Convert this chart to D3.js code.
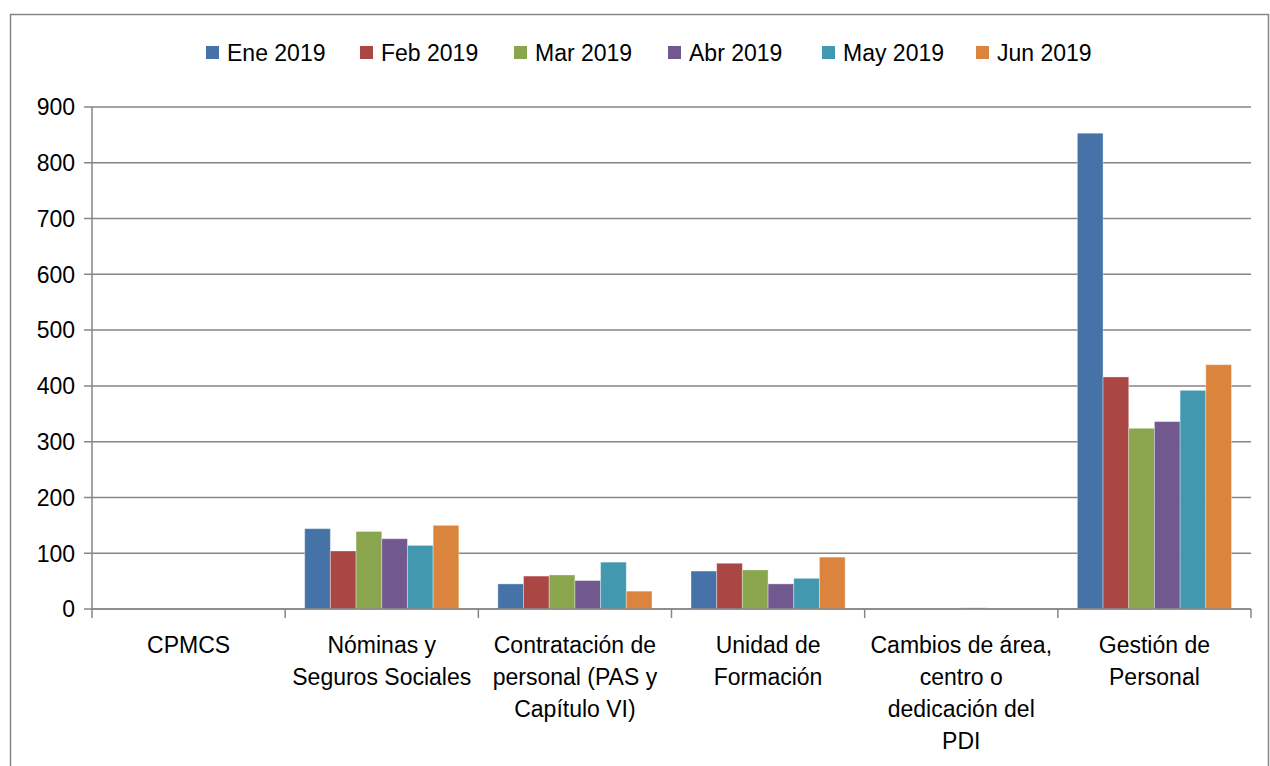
<!DOCTYPE html>
<html>
<head>
<meta charset="utf-8">
<title>Chart</title>
<script src="https://d3js.org/d3.v7.min.js"></script>
<style>
  body { margin: 0; background: #fff; }
  text { font-family: "Liberation Sans", Arial, sans-serif; fill: #000; }
</style>
</head>
<body>
<svg id="chart" width="1270" height="766"></svg>
<script>
// categories (x axis), each label split in lines
var categories = [
  ["CPMCS"],
  ["Nóminas y", "Seguros Sociales"],
  ["Contratación de", "personal (PAS y", "Capítulo VI)"],
  ["Unidad de", "Formación"],
  ["Cambios de área,", "centro o", "dedicación del", "PDI"],
  ["Gestión de", "Personal"]
];
var seriesNames = ["Ene 2019", "Feb 2019", "Mar 2019", "Abr 2019", "May 2019", "Jun 2019"];
var ene = [0, 144, 45, 68, 0, 853];
var feb = [0, 104, 59, 82, 0, 416];
var mar = [0, 139, 61, 70, 0, 324];
var abr = [0, 126, 51, 45, 2, 336];
var may = [0, 114, 84, 55, 0, 392];
var jun = [0, 150, 32, 93, 0, 438];
var yTicks = [0, 100, 200, 300, 400, 500, 600, 700, 800, 900];
var colors = ["#4572A7", "#AA4643", "#89A54E", "#71588F", "#4198AF", "#DB843D"];

var seriesValues = [ene, feb, mar, abr, may, jun];

var svg = d3.select("#chart");

// outer frame
svg.append("rect")
  .attr("x", 10.5).attr("y", 14.5)
  .attr("width", 1258).attr("height", 800)
  .attr("fill", "none").attr("stroke", "#868686").attr("stroke-width", 1.5);

var pLeft = 92, pRight = 1251, pTop = 107, pBottom = 609;

var x0 = d3.scaleBand().domain(d3.range(categories.length))
  .range([pLeft, pRight]).paddingInner(0).paddingOuter(0);
var x1 = d3.scaleBand().domain(d3.range(seriesNames.length))
  .range([0, x0.bandwidth()]).paddingOuter(0.76).paddingInner(0);
var y = d3.scaleLinear().domain([0, 900]).range([pBottom, pTop]);

// gridlines
svg.append("g").selectAll("line").data(yTicks).join("line")
  .attr("x1", pLeft - 8).attr("x2", pRight)
  .attr("y1", function(d) { return y(d); })
  .attr("y2", function(d) { return y(d); })
  .attr("stroke", "#868686").attr("stroke-width", 1.5);

// y labels
svg.append("g").selectAll("text").data(yTicks).join("text")
  .attr("x", 75).attr("y", function(d) { return y(d); })
  .attr("dy", "0.36em")
  .attr("text-anchor", "end")
  .style("font-size", "23px")
  .text(function(d) { return d; });

// bars
var groups = svg.append("g").selectAll("g").data(categories).join("g")
  .attr("transform", function(d, i) { return "translate(" + x0(i) + ",0)"; });

groups.selectAll("rect")
  .data(function(d, i) {
    return seriesValues.map(function(s, j) { return { s: j, v: s[i] }; });
  })
  .join("rect")
  .attr("x", function(d) { return x1(d.s); })
  .attr("width", x1.bandwidth())
  .attr("y", function(d) { return y(d.v); })
  .attr("height", function(d) { return y(0) - y(d.v); })
  .attr("fill", function(d) { return colors[d.s]; })
  .attr("stroke", "#fff").attr("stroke-opacity", 0.35).attr("stroke-width", 1);

// axes lines
svg.append("line")
  .attr("x1", pLeft).attr("x2", pLeft).attr("y1", pTop).attr("y2", pBottom)
  .attr("stroke", "#868686").attr("stroke-width", 1.5);
svg.append("line")
  .attr("x1", pLeft).attr("x2", pRight).attr("y1", pBottom).attr("y2", pBottom)
  .attr("stroke", "#868686").attr("stroke-width", 1.5);

// category ticks
svg.append("g").selectAll("line").data(d3.range(categories.length + 1)).join("line")
  .attr("x1", function(d) { return pLeft + d * x0.step(); })
  .attr("x2", function(d) { return pLeft + d * x0.step(); })
  .attr("y1", pBottom).attr("y2", pBottom + 9)
  .attr("stroke", "#868686").attr("stroke-width", 1.5);

// category labels
var labels = svg.append("g").selectAll("text").data(categories).join("text")
  .attr("text-anchor", "middle")
  .style("font-size", "23px")
  .attr("transform", function(d, i) {
    return "translate(" + (x0(i) + x0.bandwidth() / 2) + ",653)";
  });
labels.selectAll("tspan").data(function(d) { return d; }).join("tspan")
  .attr("x", 0)
  .attr("y", function(d, i) { return i * 32; })
  .text(function(d) { return d; });

// legend
var legend = svg.append("g").selectAll("g").data(seriesNames).join("g")
  .attr("transform", function(d, i) { return "translate(" + (206 + i * 154) + ",46)"; });
legend.append("rect")
  .attr("width", 13).attr("height", 13)
  .attr("fill", function(d, i) { return colors[i]; });
legend.append("text")
  .attr("x", 21).attr("y", 7).attr("dy", "0.36em")
  .style("font-size", "23px")
  .text(function(d) { return d; });
</script>
</body>
</html>
